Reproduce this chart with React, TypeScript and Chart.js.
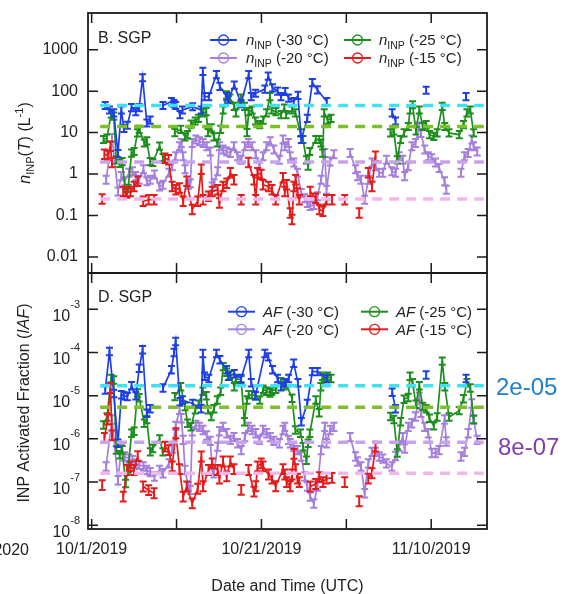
import React, { useEffect, useRef } from 'react';
import { Chart, registerables } from 'chart.js';

Chart.register(...registerables);

const FONT = '"Liberation Sans", Arial, Helvetica, sans-serif';
const INK = '#222222';

// ---- x axis: days since 10/1/2019 00:00 UTC ----
const xMin = -0.43;
const xMax = 46.57;
const xTickDays = [0, 10, 20, 30, 40];
const xTickLabels = ['10/1/2019', '', '10/21/2019', '', '11/10/2019'];

// ---- y axes ----
const topMin = 0.0041;
const topMax = 7670;
const topTickValues = [0.01, 0.1, 1, 10, 100, 1000];
const topTickLabels = ['0.01', '0.1', '1', '10', '100', '1000'];
const bottomMin = 8.2e-9;
const bottomMax = 6.9e-3;
const bottomTickValues = [1e-8, 1e-7, 1e-6, 1e-5, 1e-4, 1e-3];
const bottomTickExponents = ['-8', '-7', '-6', '-5', '-4', '-3'];

// ---- -30 °C ----
const days30 = [1.6, 2.1, 2.6, 3.1, 3.5, 3.8, 4.2, 4.7, 5.2, 5.6, 6.0, 6.5, 6.9, 7.6, 8.4, 9.4, 9.7, 9.9, 10.4, 10.7, 11.9, 12.9, 13.1, 13.3, 13.8, 14.7, 15.1, 15.9, 16.1, 16.8, 17.6, 18.5, 18.8, 19.3, 20.4, 20.8, 21.3, 21.9, 22.3, 22.8, 23.2, 23.8, 24.3, 24.7, 25.4, 26.0, 26.6, 27.7, 31.0, 35.4, 35.8, 37.5, 39.4, 42.0, 44.1];
const nInp30 = [45, 35, 30, 3.1, 35, 12.6, 15, 40, 32, 40, 210, 17, 20, null, 45, 56, 50, 45, 27, 35, 42, 35, 300, 74, 74, 250, 130, 74, 62, 140, 50, 250, 74, 89, 112, 230, 120, 100, 74, 98, 68, 56, 79, 6.8, 22, 160, 107, 56, null, 30, 19, null, 105, null, 74];
const af30 = [1.35e-5, 1.05e-4, 1.12e-5, 7.9e-7, 1.05e-5, 1.0e-5, 9.5e-6, 1.7e-5, 1.0e-5, 4.3e-5, 1.15e-4, 3.9e-6, 5.0e-6, null, 1.5e-5, 4.0e-5, 1.0e-4, 1.8e-4, 7.2e-6, 7.9e-6, 6.6e-6, 5.0e-6, 9.5e-5, 2.8e-5, 2.5e-5, 9.5e-5, 6.8e-5, 4.0e-5, 2.8e-5, 3.2e-5, 2.5e-5, 9.5e-5, 2.0e-5, 1.0e-5, 9.5e-5, 7.9e-5, 4.0e-5, 2.5e-5, 1.6e-5, 2.0e-5, 2.5e-5, 5.6e-5, 2.0e-5, 2.5e-6, 6.6e-6, 3.6e-5, 3.6e-5, 2.5e-5, null, 1.2e-5, 5.0e-6, null, 3.0e-5, null, 2.5e-5];

// ---- -25 °C ----
const days25 = [1.4, 1.8, 2.3, 2.6, 2.9, 3.3, 3.6, 4.0, 4.3, 4.7, 5.0, 5.4, 5.6, 6.2, 6.5, 6.9, 7.2, 8.0, 8.4, 9.0, 9.8, 10.5, 11.0, 11.3, 11.7, 12.2, 12.6, 13.1, 13.5, 13.7, 14.1, 14.4, 14.8, 15.2, 15.5, 15.9, 16.3, 16.8, 17.0, 17.6, 18.0, 18.3, 18.5, 18.9, 19.3, 19.8, 20.2, 20.6, 21.0, 21.2, 21.7, 22.3, 22.7, 22.9, 23.6, 24.0, 24.6, 24.9, 25.3, 25.5, 25.7, 26.4, 26.8, 27.0, 27.2, 27.4, 27.8, 28.2, 30.0, 35.2, 35.6, 36.0, 36.4, 36.8, 37.3, 37.5, 37.8, 38.2, 38.6, 39.0, 39.4, 39.8, 40.3, 40.7, 41.3, 41.6, 42.1, 43.3, 43.8, 44.2, 44.6, 45.0];
const nInp25 = [6.8, 7.4, 28, 25, 2.2, 1.8, 2.0, 0.35, 0.45, 3.2, 3.5, 9.8, 12, 5.6, 6.3, 2.0, 1.9, 4.7, 2.5, null, 10, 12, 7.9, 8.9, 16, 19, 22, 30, 32, 10, 13, 7.9, 5.6, 12, 35, 81, 68, 43, 30, 68, 43, 10, 32, 35, 19, 15.5, 20, 30, 74, 35, 32, 27, 39, 27, 35, 30, 9.8, 6.8, 2.2, 1.55, 3.5, 6.8, 6.8, 5.6, 3.2, 30, 20, 22, null, 9.8, 11, 2.2, 6.8, 9.8, 14, 35, 47, 11, 35, 14, 15.5, 8.9, 8.1, 9.8, 43, 14, 9.8, 8.9, 15.5, 30, 35, 9.8];
const af25 = [2.1e-6, 3.2e-6, 2.5e-5, 2.3e-5, 5.5e-7, 4.3e-7, 5.6e-7, 9.3e-8, 2.0e-7, 1.35e-6, 1.5e-6, 1.15e-5, 8.9e-6, 2.3e-6, 2.8e-6, 5.0e-7, 6.0e-7, 1.0e-6, 5.0e-7, null, 9.5e-6, 1.6e-5, 5.6e-6, 2.3e-6, 1.9e-6, 4.7e-6, 6.3e-6, 1.26e-5, 1.0e-5, 4.7e-6, 3.3e-6, 5.0e-6, 7.9e-6, 1.26e-5, 4.7e-5, 3.5e-5, 3.0e-5, 1.6e-5, 2.5e-5, 2.3e-5, 2.5e-6, 7.9e-6, 1.05e-5, 1.05e-5, 1.0e-5, 7.9e-6, 1.4e-5, 1.26e-5, 1.15e-5, 1.26e-5, 1.4e-5, 2.1e-5, 1.7e-5, 1.9e-5, 8.7e-6, 1.6e-6, 1.35e-6, 6.6e-7, 3.2e-7, 7.9e-7, 1.35e-6, 7.9e-6, 4.0e-6, 1.6e-5, 2.8e-5, 2.5e-5, 2.8e-5, 2.5e-5, null, 3.3e-6, 2.8e-6, 4.7e-7, 2.5e-6, 8.3e-6, 9.1e-6, 2.8e-5, 2.0e-5, 6.3e-6, 1.7e-5, 5.6e-6, 5.0e-6, 3.0e-6, 2.0e-6, 3.2e-6, 6.3e-5, 1.6e-5, 3.2e-6, 4.5e-6, 8.5e-6, 2.0e-5, 1.5e-5, 2.8e-6];

// ---- -20 °C ----
const days20 = [1.7, 2.4, 3.1, 3.5, 3.9, 4.4, 4.8, 5.2, 5.6, 6.1, 6.5, 6.9, 7.4, 8.0, 8.4, 9.1, 9.5, 9.9, 10.35, 10.56, 10.78, 11.0, 11.4, 11.63, 11.85, 12.27, 12.7, 13.13, 13.56, 13.98, 14.2, 14.41, 14.84, 15.05, 15.48, 15.91, 16.34, 16.76, 17.19, 17.62, 18.05, 18.47, 18.9, 19.33, 19.76, 20.19, 20.61, 21.04, 21.47, 22.11, 22.54, 22.75, 23.18, 23.39, 23.82, 24.25, 24.68, 25.1, 25.4, 25.75, 26.17, 26.6, 27.03, 27.46, 27.67, 28.1, 28.53, 29.5, 30.45, 31.09, 31.31, 31.73, 32.16, 32.59, 33.02, 33.44, 33.87, 34.3, 34.73, 35.37, 35.8, 36.22, 36.65, 36.87, 37.29, 37.72, 38.15, 38.58, 38.79, 39.22, 39.65, 40.07, 40.5, 40.93, 41.57, 41.78, 42.6, 43.5, 43.92, 44.35, 44.78, 44.99, 45.42];
const nInp20 = [0.73, 7.4, 0.38, 0.89, 0.67, 1.07, 1.17, 0.89, 0.73, 1.3, 0.67, 0.73, 0.98, 0.5, 0.55, 1.07, 1.55, 2.7, 4.7, 5.6, 2.7, 1.3, 0.55, 0.6, 5.6, 6.8, 6.2, 5.6, 4.7, 3.5, 0.5, 0.6, 1.17, 4.7, 3.9, 3.5, 3.2, 4.7, 2.7, 2.2, 4.7, 5.6, 4.7, 3.0, 1.55, 2.7, 4.7, 6.2, 3.9, 2.2, 6.8, 4.7, 5.6, 2.7, 1.9, 1.07, 0.35, 0.26, 0.2, 0.17, 0.18, 0.29, 0.73, 3.2, 0.42, 2.0, 3.0, null, 3.2, 1.3, 0.89, 0.73, 0.24, 0.73, 1.9, 1.55, 1.07, 1.07, 2.2, 1.17, 1.07, 2.7, 2.2, 0.89, 1.55, 4.7, 5.6, 14, 9.8, 3.9, 2.7, 2.4, 1.9, 1.4, 0.67, 0.42, null, 1.07, 2.7, 3.2, 6.8, 4.7, 3.5];
const af20 = [2.3e-7, 2.8e-6, 1.1e-7, 6.0e-7, 3.9e-7, 3.5e-7, 3.2e-7, 2.7e-7, 2.5e-7, 2.3e-7, 1.9e-7, 1.7e-7, 1.35e-7, 1.9e-7, 1.6e-7, 2.7e-7, 6.0e-7, 2.0e-6, 4.7e-6, 3.0e-6, 9.5e-7, 1.9e-7, 7.9e-8, 6.6e-8, 1.5e-6, 2.1e-6, 1.9e-6, 1.6e-6, 1.2e-6, 9.0e-7, 1.9e-7, 1.6e-7, 6.6e-7, 1.5e-6, 1.9e-6, 1.35e-6, 9.5e-7, 1.1e-6, 7.9e-7, 5.5e-7, 1.1e-6, 1.9e-6, 1.6e-6, 1.35e-6, 9.5e-7, 1.6e-6, 1.35e-6, 1.1e-6, 9.0e-7, 7.9e-7, 1.6e-6, 1.9e-6, 9.5e-7, 7.9e-7, 6.5e-7, 5.5e-7, 3.9e-7, 1.35e-7, 7.9e-8, 4.6e-8, 3.2e-8, 7.9e-8, 5.5e-7, 1.9e-6, 7.9e-7, 1.6e-6, 1.9e-6, null, 1.1e-6, 3.9e-7, 3.0e-7, 2.3e-7, 5.5e-8, 2.7e-7, 5.0e-7, 5.0e-7, 3.9e-7, 3.5e-7, 2.7e-7, 2.3e-7, 4.0e-7, 6.6e-7, 1.1e-6, 6.0e-7, 1.9e-6, 2.3e-6, 3.3e-6, 9.5e-6, 4.0e-6, 1.9e-6, 1.35e-6, 4.7e-7, 4.7e-7, 5.5e-7, 2.8e-6, 8.7e-7, null, 3.9e-7, 5.0e-7, 1.35e-6, 6.6e-6, 2.8e-6, 9.5e-7];

// ---- -15 °C ----
const days15 = [1.24, 1.35, 1.5, 1.88, 2.22, 2.4, 3.0, 3.72, 4.15, 4.57, 5.0, 5.43, 5.75, 6.07, 6.71, 7.35, 8.0, 8.64, 9.06, 9.49, 9.92, 10.35, 10.78, 11.2, 11.85, 12.49, 12.92, 13.13, 13.77, 14.2, 14.84, 15.05, 15.48, 15.91, 16.34, 16.76, 17.2, 17.62, 18.0, 18.47, 19.12, 19.33, 19.55, 19.98, 20.19, 20.83, 21.25, 21.68, 22.54, 22.75, 22.97, 23.39, 23.6, 23.82, 24.03, 24.25, 24.46, 25.1, 25.75, 26.39, 26.82, 27.24, 27.67, 28.31, 29.0, 29.81, 30.6, 31.52, 32.0, 32.59, 33.02, 33.44];
const nInp15 = [0.25, null, 3.0, 2.8, 4.7, 1.9, null, 0.38, 0.35, 0.38, 0.5, 0.67, null, 0.22, 0.24, 0.24, null, 2.4, 2.2, 0.5, 0.42, 0.46, 0.22, 0.67, 0.14, 0.22, 1.3, 0.24, 0.29, 0.38, 0.42, 0.2, 0.5, 0.6, 1.07, 0.73, null, 0.24, null, 1.9, 0.73, 0.24, 1.07, 0.98, 0.55, 0.5, 0.42, 0.24, 0.81, 0.38, 0.55, 0.115, 0.08, 0.5, 0.73, 0.35, 0.24, null, 0.38, 0.26, 0.14, 0.126, 0.24, 0.24, null, 0.24, null, 0.115, null, 1.07, 0.5, 2.7];
const af15 = [8.5e-8, null, 1.05e-6, 2.8e-6, 1.5e-5, 1.2e-6, null, 4.6e-8, 1.9e-7, 2.3e-7, 1.9e-7, 4.0e-7, null, 7.9e-8, 6.5e-8, 5.5e-8, null, 6.6e-7, 5.5e-7, 2.3e-7, 1.35e-6, 2.0e-7, 4.6e-8, 7.9e-8, 3.2e-8, 7.0e-8, 3.9e-7, 8.0e-8, 1.9e-7, 2.7e-7, 1.9e-7, 1.2e-7, 3.0e-7, 1.35e-7, 3.0e-7, 2.0e-7, null, 6.6e-8, null, 1.9e-7, 6.0e-8, 8.0e-8, 2.3e-7, 2.7e-7, 2.3e-7, 1.5e-7, 1.2e-7, 8.0e-8, 2.0e-7, 1.5e-7, 1.0e-7, 8.0e-8, 1.5e-7, 4.5e-7, 2.0e-7, 1.2e-7, 1.0e-7, null, 7.9e-8, 9.0e-8, 1.3e-7, 1.0e-7, 1.2e-7, 1.25e-7, null, 1.0e-7, null, 3.6e-8, null, 1.2e-7, 1.6e-7, 6.6e-7];

// ---- error-bar factors (multiplicative) ----
const errFactor30 = 1.22;
const errFactor25 = 1.22;
const errFactor20 = 1.25;
const errFactor15 = 1.3;

// ---- dashed reference levels ----
const refStartDay = 1.0;
const refEndDay = 46.2;
const topRefLevels = [45, 14, 1.95, 0.25];
const bottomRefLevels = [1.7e-5, 5.4e-6, 8.3e-7, 1.6e-7];

// ---- legend / labels ----
const temps = ['-30', '-25', '-20', '-15'];
const sideNotes = ['2e-05', '8e-07'];

const C30 = '#1f3fe6';
const C25 = '#1e8f1e';
const C20 = '#a57fdc';
const C15 = '#e51a1a';
const seriesColors = [C30, C25, C20, C15];
const refColors = ['#3fe2f2', '#7cbf2a', '#c7a3ea', '#f2b6ef'];

type Run = { t: string; size: number; italic?: boolean; dy?: number };

function fontOf(r: Run) {
  return `${r.italic ? 'italic ' : ''}${r.size}px ${FONT}`;
}

function drawRuns(ctx: CanvasRenderingContext2D, x: number, y: number, runs: Run[], align: 'left' | 'center' | 'right', color: string) {
  let total = 0;
  for (const r of runs) {
    ctx.font = fontOf(r);
    total += ctx.measureText(r.t).width;
  }
  let cx = align === 'left' ? x : align === 'center' ? x - total / 2 : x - total;
  ctx.fillStyle = color;
  ctx.textAlign = 'left';
  ctx.textBaseline = 'alphabetic';
  for (const r of runs) {
    ctx.font = fontOf(r);
    ctx.fillText(r.t, cx, y + (r.dy || 0));
    cx += ctx.measureText(r.t).width;
  }
}

function series(days: number[], values: (number | null)[], color: string, axis: string, err: number) {
  return {
    type: 'line',
    yAxisID: axis,
    data: days.map((d, i) => ({ x: d, y: values[i] })),
    borderColor: color,
    backgroundColor: color,
    borderWidth: 1.7,
    pointRadius: 0,
    pointHoverRadius: 0,
    spanGaps: false,
    tension: 0,
    errFactor: err,
  } as any;
}

function refLine(level: number, color: string, axis: string) {
  return {
    type: 'line',
    yAxisID: axis,
    data: [
      { x: refStartDay, y: level },
      { x: refEndDay, y: level },
    ],
    borderColor: color,
    borderWidth: 3.5,
    borderDash: [10, 7],
    pointRadius: 0,
    pointHoverRadius: 0,
  } as any;
}

const zeroPad = (s: any) => {
  s.paddingTop = 0;
  s.paddingBottom = 0;
  s.paddingLeft = 0;
  s.paddingRight = 0;
};

const decorPlugin = {
  id: 'decor',
  afterDatasetDraw(chart: any, args: any) {
    const ds = chart.data.datasets[args.index];
    if (!ds.errFactor) return;
    const ys = chart.scales[ds.yAxisID];
    const ctx: CanvasRenderingContext2D = chart.ctx;
    ctx.save();
    ctx.strokeStyle = ds.borderColor;
    ctx.lineWidth = 2;
    ctx.beginPath();
    args.meta.data.forEach((pt: any, i: number) => {
      const raw = ds.data[i];
      if (!raw || raw.y == null) return;
      const x = pt.x;
      const yHi = ys.getPixelForValue(raw.y * ds.errFactor);
      const yLo = ys.getPixelForValue(raw.y / ds.errFactor);
      ctx.moveTo(x, yHi);
      ctx.lineTo(x, yLo);
      ctx.moveTo(x - 3.5, yHi);
      ctx.lineTo(x + 3.5, yHi);
      ctx.moveTo(x - 3.5, yLo);
      ctx.lineTo(x + 3.5, yLo);
    });
    ctx.stroke();
    ctx.restore();
  },
  afterDraw(chart: any) {
    const ctx: CanvasRenderingContext2D = chart.ctx;
    const { left, right, top, bottom } = chart.chartArea;
    const yT = chart.scales.y;
    const yB = chart.scales.y2;
    const xs = chart.scales.x;
    const mid = yT.bottom;
    ctx.save();

    // frame + divider
    ctx.strokeStyle = '#1a1a1a';
    ctx.lineWidth = 1.8;
    ctx.strokeRect(left, top, right - left, bottom - top);
    ctx.beginPath();
    ctx.moveTo(left, mid);
    ctx.lineTo(right, mid);
    ctx.stroke();

    // inward ticks
    const TL = 10;
    ctx.lineWidth = 1.5;
    ctx.beginPath();
    topTickValues.forEach((v) => {
      const y = yT.getPixelForValue(v);
      ctx.moveTo(left, y); ctx.lineTo(left + TL, y);
      ctx.moveTo(right, y); ctx.lineTo(right - TL, y);
    });
    bottomTickValues.forEach((v) => {
      const y = yB.getPixelForValue(v);
      ctx.moveTo(left, y); ctx.lineTo(left + TL, y);
      ctx.moveTo(right, y); ctx.lineTo(right - TL, y);
    });
    xTickDays.forEach((d) => {
      const x = xs.getPixelForValue(d);
      ctx.moveTo(x, top); ctx.lineTo(x, top + TL);
      ctx.moveTo(x, mid - TL); ctx.lineTo(x, mid + TL);
      ctx.moveTo(x, bottom); ctx.lineTo(x, bottom - TL);
    });
    ctx.stroke();

    // bottom axis labels 10^n
    bottomTickValues.forEach((v, i) => {
      const y = yB.getPixelForValue(v);
      ctx.font = `16px ${FONT}`;
      const w10 = ctx.measureText('10').width;
      ctx.font = `11px ${FONT}`;
      const we = ctx.measureText(bottomTickExponents[i]).width;
      const x0 = 80 - we - w10;
      drawRuns(ctx, x0, y + 11.5, [{ t: '10', size: 16 }], 'left', INK);
      drawRuns(ctx, x0 + w10, y - 1.5, [{ t: bottomTickExponents[i], size: 11 }], 'left', INK);
    });

    // axis titles
    ctx.save();
    ctx.translate(24, 143);
    ctx.rotate(-Math.PI / 2);
    drawRuns(ctx, 0, 5.7, [
      { t: 'n', size: 16, italic: true },
      { t: 'INP', size: 11, dy: 4 },
      { t: '(', size: 16 },
      { t: 'T', size: 16, italic: true },
      { t: ') (L', size: 16 },
      { t: '-1', size: 11, dy: -7 },
      { t: ')', size: 16 },
    ], 'center', INK);
    ctx.restore();

    ctx.save();
    ctx.translate(23, 403);
    ctx.rotate(-Math.PI / 2);
    drawRuns(ctx, 0, 5.7, [
      { t: 'INP Activated Fraction (', size: 16 },
      { t: 'IAF', size: 16, italic: true },
      { t: ')', size: 16 },
    ], 'center', INK);
    ctx.restore();

    drawRuns(ctx, 287.5, 590.7, [{ t: 'Date and Time (UTC)', size: 16 }], 'center', INK);
    drawRuns(ctx, 29, 554.7, [{ t: '2020', size: 16 }], 'right', INK);

    // panel labels
    drawRuns(ctx, 98, 42.7, [{ t: 'B. SGP', size: 16 }], 'left', INK);
    drawRuns(ctx, 98, 301.7, [{ t: 'D. SGP', size: 16 }], 'left', INK);

    // legends
    const legendItem = (x1: number, x2: number, xText: number, yc: number, color: string, runs: Run[]) => {
      ctx.strokeStyle = color;
      ctx.lineWidth = 2;
      ctx.beginPath();
      ctx.moveTo(x1, yc);
      ctx.lineTo(x2, yc);
      ctx.stroke();
      ctx.lineWidth = 1.3;
      ctx.beginPath();
      ctx.arc((x1 + x2) / 2, yc, 5, 0, Math.PI * 2);
      ctx.stroke();
      drawRuns(ctx, xText, yc + 5.4, runs, 'left', INK);
    };
    const topRuns = (t: string): Run[] => [
      { t: 'n', size: 15, italic: true },
      { t: 'INP', size: 10.5, dy: 4 },
      { t: ` (${t} °C)`, size: 15 },
    ];
    const botRuns = (t: string): Run[] => [
      { t: 'AF', size: 15, italic: true },
      { t: ` (${t} °C)`, size: 15 },
    ];
    const topCols = [[210, 237, 246], [344, 371, 379]];
    const topRows = [40, 58];
    const botCols = [[228, 255, 263], [361, 388, 396]];
    const botRows = [311.7, 329.3];
    temps.forEach((t, i) => {
      const col = i % 2;
      const row = Math.floor(i / 2);
      legendItem(topCols[col][0], topCols[col][1], topCols[col][2], topRows[row], seriesColors[i], topRuns(t));
      legendItem(botCols[col][0], botCols[col][1], botCols[col][2], botRows[row], seriesColors[i], botRuns(t));
    });

    // side notes
    drawRuns(ctx, 496, 395.3, [{ t: sideNotes[0], size: 24 }], 'left', '#1e7fd0');
    drawRuns(ctx, 498, 455.3, [{ t: sideNotes[1], size: 24 }], 'left', '#7e3fae');

    ctx.restore();
  },
};

export default function App() {
  const canvasRef = useRef<HTMLCanvasElement>(null);

  useEffect(() => {
    const canvas = canvasRef.current;
    if (!canvas) return;

    const datasets: any[] = [];
    topRefLevels.forEach((lv, i) => datasets.push(refLine(lv, refColors[i], 'y')));
    bottomRefLevels.forEach((lv, i) => datasets.push(refLine(lv, refColors[i], 'y2')));
    datasets.push(series(days15, nInp15, C15, 'y', errFactor15));
    datasets.push(series(days30, nInp30, C30, 'y', errFactor30));
    datasets.push(series(days25, nInp25, C25, 'y', errFactor25));
    datasets.push(series(days20, nInp20, C20, 'y', errFactor20));
    datasets.push(series(days15, af15, C15, 'y2', errFactor15));
    datasets.push(series(days30, af30, C30, 'y2', errFactor30));
    datasets.push(series(days25, af25, C25, 'y2', errFactor25));
    datasets.push(series(days20, af20, C20, 'y2', errFactor20));

    const chart = new Chart(canvas, {
      type: 'line',
      data: { datasets },
      options: {
        responsive: false,
        animation: false,
        devicePixelRatio: 1,
        layout: { padding: { left: 28, right: 77, top: 13, bottom: 0 } },
        plugins: { legend: { display: false }, tooltip: { enabled: false } },
        events: [],
        scales: {
          x: {
            type: 'linear',
            position: 'bottom',
            min: xMin,
            max: xMax,
            afterBuildTicks: (s: any) => {
              s.ticks = xTickDays.map((v) => ({ value: v }));
            },
            afterFit: (s: any) => {
              s.height = 65;
              zeroPad(s);
            },
            grid: { display: false, drawTicks: false },
            border: { display: false },
            ticks: {
              autoSkip: false,
              maxRotation: 0,
              minRotation: 0,
              padding: 11,
              color: INK,
              font: { family: FONT, size: 16 },
              callback: (v: any) => {
                const k = xTickDays.indexOf(Number(v));
                return k >= 0 ? xTickLabels[k] : '';
              },
            },
          },
          y: {
            type: 'logarithmic',
            position: 'left',
            stack: 'panels',
            stackWeight: 260,
            weight: 2,
            min: topMin,
            max: topMax,
            afterBuildTicks: (s: any) => {
              s.ticks = topTickValues.map((v) => ({ value: v }));
            },
            afterFit: (s: any) => {
              s.width = 60;
              zeroPad(s);
            },
            grid: { display: false, drawTicks: false },
            border: { display: false },
            ticks: {
              padding: 10,
              color: INK,
              font: { family: FONT, size: 16 },
              callback: (v: any) => {
                const k = topTickValues.findIndex((t) => Math.abs(t - Number(v)) / t < 1e-6);
                return k >= 0 ? topTickLabels[k] : '';
              },
            },
          },
          y2: {
            type: 'logarithmic',
            position: 'left',
            stack: 'panels',
            stackWeight: 256,
            weight: 1,
            min: bottomMin,
            max: bottomMax,
            afterBuildTicks: (s: any) => {
              s.ticks = bottomTickValues.map((v) => ({ value: v }));
            },
            afterFit: (s: any) => {
              s.width = 60;
              zeroPad(s);
            },
            grid: { display: false, drawTicks: false },
            border: { display: false },
            ticks: { display: false },
          },
        },
      } as any,
      plugins: [decorPlugin as any],
    });

    return () => chart.destroy();
  }, []);

  return (
    <div style={{ position: 'fixed', left: 0, top: 0, width: 564, height: 594, background: '#ffffff' }}>
      <canvas ref={canvasRef} width={564} height={594} style={{ display: 'block', width: 564, height: 594 }} />
    </div>
  );
}
